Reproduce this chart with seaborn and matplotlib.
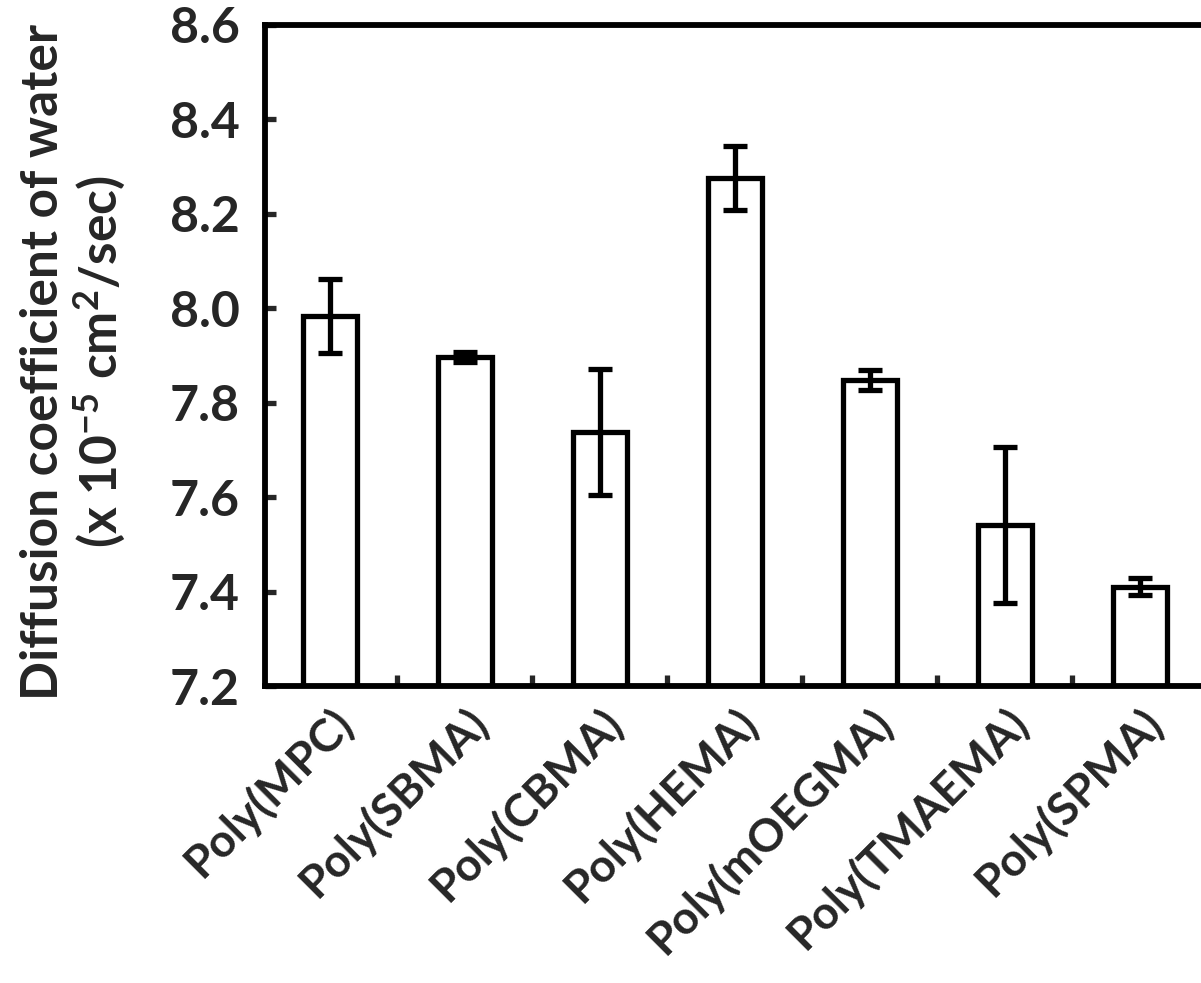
import numpy as np
import pandas as pd
import seaborn as sns
import matplotlib
matplotlib.use("Agg")
import matplotlib.pyplot as plt
from matplotlib.transforms import ScaledTranslation

# values
polymers = ["Poly(MPC)", "Poly(SBMA)", "Poly(CBMA)", "Poly(HEMA)",
            "Poly(mOEGMA)", "Poly(TMAEMA)", "Poly(SPMA)"]
diffusion = [7.984, 7.897, 7.738, 8.276, 7.848, 7.541, 7.410]
diffusion_err = [0.079, 0.010, 0.134, 0.068, 0.022, 0.166, 0.018]
y_ticks = [7.2, 7.4, 7.6, 7.8, 8.0, 8.2, 8.4, 8.6]

df = pd.DataFrame({"polymer": polymers, "D": diffusion, "err": diffusion_err})

sns.set_style("ticks")
plt.rcParams["font.family"] = ["Lato", "DejaVu Sans"]
plt.rcParams["font.weight"] = "bold"
plt.rcParams["mathtext.fontset"] = "custom"
plt.rcParams["mathtext.rm"] = "Lato:bold"
plt.rcParams["mathtext.bf"] = "Lato:bold"
plt.rcParams["mathtext.default"] = "rm"

fig = plt.figure(figsize=(12.01, 9.83), dpi=100)
ax = fig.add_axes([0.2206, 0.3021, 0.7848, 0.6725])

lw = 3.8
sns.barplot(data=df, x="polymer", y="D", order=polymers, color="white",
            edgecolor="black", linewidth=lw, width=0.4, errorbar=None, ax=ax)

# error bars on top of the bars
ax.errorbar(np.arange(len(polymers)), df["D"], yerr=df["err"], fmt="none",
            ecolor="black", elinewidth=lw, capsize=8.6, capthick=lw, zorder=5)

ax.set_ylim(7.2, 8.6)
ax.set_xlim(-0.48, 6.5)
ax.set_yticks(y_ticks)
ax.set_yticklabels([f"{t:.1f}" for t in y_ticks], fontsize=36, fontweight="bold")

# tick marks between categories, none at the labels
ax.set_xticks(np.arange(len(polymers)))
ax.set_xticklabels(polymers, rotation=45, ha="right", va="top",
                   rotation_mode="anchor", fontsize=33, fontweight="bold")
shift = ScaledTranslation(0.30, 0, fig.dpi_scale_trans)
for lab in ax.get_xticklabels():
    lab.set_transform(lab.get_transform() + shift)
ax.set_xticks(np.arange(len(polymers) - 1) + 0.5, minor=True)
ax.tick_params(axis="x", which="major", length=0, pad=10)
ax.tick_params(axis="x", which="minor", direction="in", length=8, width=lw)
ax.tick_params(axis="y", direction="in", length=8, width=lw, pad=18)

for side in ["left", "bottom", "top", "right"]:
    ax.spines[side].set_visible(True)
    ax.spines[side].set_linewidth(4.2)
    ax.spines[side].set_color("black")

ax.set_xlabel("")
ax.set_ylabel("Diffusion coefficient of water\n"
              r"(x 10$^{-5}$ cm$^{2}$/sec)",
              fontsize=37, fontweight="bold", linespacing=1.1)
ax.yaxis.set_label_coords(-0.203, 0.49)
ax.yaxis.label.set_verticalalignment("center")

fig.savefig("out.png", dpi=100, facecolor="white")
